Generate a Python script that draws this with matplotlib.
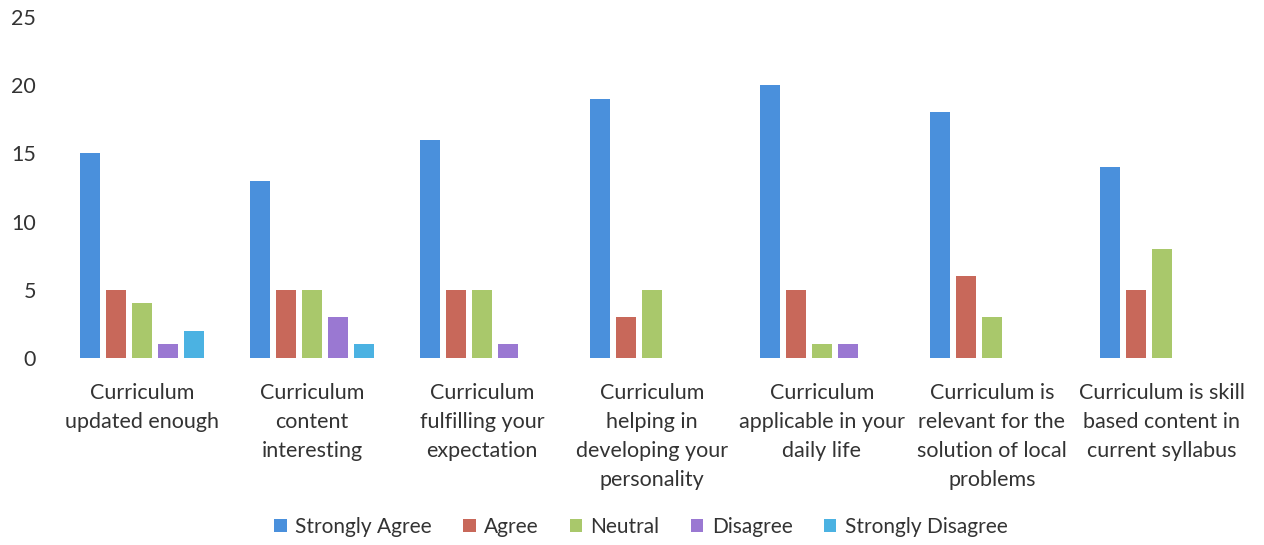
import matplotlib
matplotlib.use("Agg")
import matplotlib.pyplot as plt
import numpy as np

categories = [
    "Curriculum\nupdated enough",
    "Curriculum\ncontent\ninteresting",
    "Curriculum\nfulfilling your\nexpectation",
    "Curriculum\nhelping in\ndeveloping your\npersonality",
    "Curriculum\napplicable in your\ndaily life",
    "Curriculum is\nrelevant for the\nsolution of local\nproblems",
    "Curriculum is skill\nbased content in\ncurrent syllabus",
]
series_names = ["Strongly Agree", "Agree", "Neutral", "Disagree", "Strongly Disagree"]
strongly_agree = [15, 13, 16, 19, 20, 18, 14]
agree = [5, 5, 5, 3, 5, 6, 5]
neutral = [4, 5, 5, 5, 1, 3, 8]
disagree = [1, 3, 1, 0, 1, 0, 0]
strongly_disagree = [2, 1, 0, 0, 0, 0, 0]
y_ticks = [0, 5, 10, 15, 20, 25]

colors = ["#4A90DC", "#C8685A", "#A9C86B", "#9A78D2", "#4BB2E2"]
values = [strongly_agree, agree, neutral, disagree, strongly_disagree]

plt.rcParams['font.family'] = ['Lato', 'DejaVu Sans']

fig = plt.figure(figsize=(12.64, 5.45), dpi=100)
ax = fig.add_axes([0.045, 0.343, 0.9415, 0.626])

x = np.arange(len(categories))
width = 0.118
step = 0.153
for i, (name, vals, c) in enumerate(zip(series_names, values, colors)):
    ax.bar(x + (i - 2) * step, vals, width=width, color=c, label=name)

ax.set_xlim(-0.5, len(categories) - 0.5)
ax.set_ylim(0, 25)
ax.set_yticks(y_ticks)
ax.set_xticks(x)
ax.set_xticklabels(categories, fontsize=15.5, color="#333333", linespacing=1.57)
ax.tick_params(axis='y', length=0, pad=15, labelsize=15.5, labelcolor="#333333")
ax.tick_params(axis='x', length=0, pad=18)
for s in ax.spines.values():
    s.set_visible(False)

fig.legend(loc='center', bbox_to_anchor=(0.507, 0.033), ncol=5, frameon=False,
           fontsize=15, handlelength=0.6, handleheight=0.6, handletextpad=0.4,
           columnspacing=1.5, labelcolor="#333333")

fig.savefig("out.png", dpi=100, facecolor="white")
